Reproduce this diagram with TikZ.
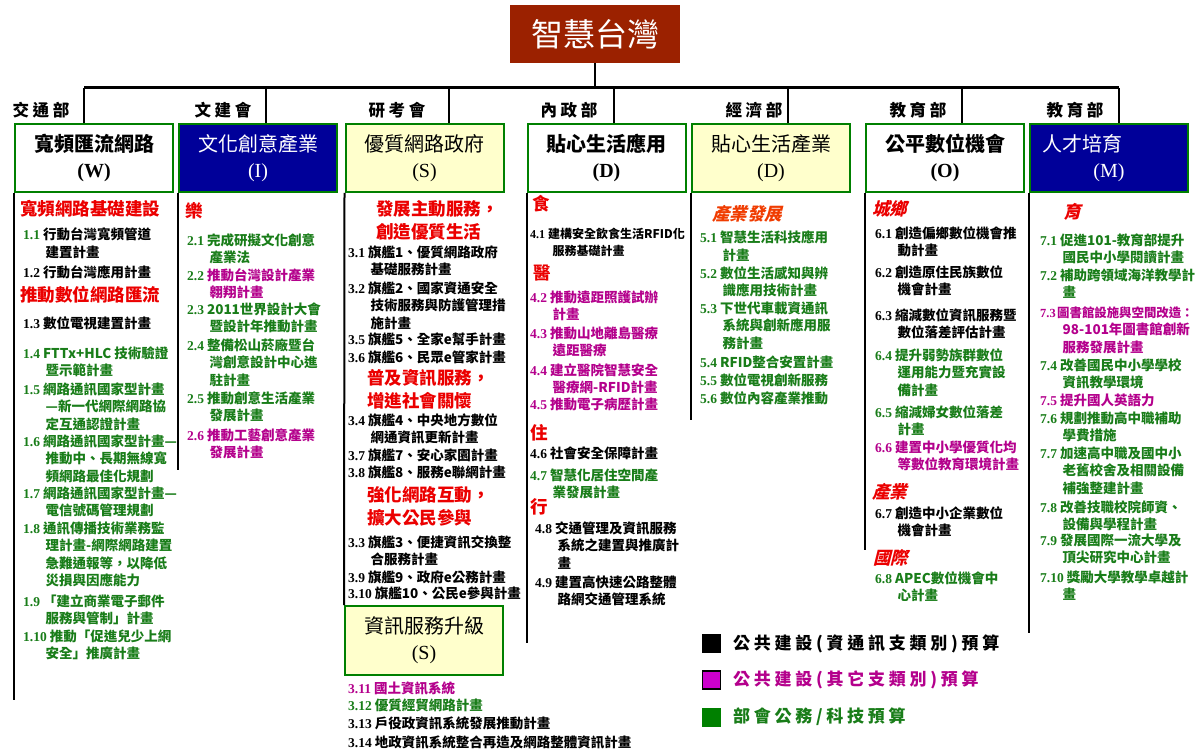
\documentclass[tikz,border=0pt]{standalone}
\usepackage{fontspec}
\setmainfont{Liberation Serif}
\newfontfamily\cjk{Noto Sans CJK TC}
\newfontfamily\cjkls[LetterSpace=22]{Noto Sans CJK TC}
\newfontfamily\cjksl[FakeSlant=0.25]{Noto Sans CJK TC}
\definecolor{hred}{RGB}{235,0,0}
\definecolor{ig}{RGB}{25,125,25}
\definecolor{im}{RGB}{180,0,140}
\definecolor{navyb}{RGB}{0,0,153}
\definecolor{lyel}{RGB}{255,255,204}
\definecolor{bgreen}{RGB}{0,128,0}
\definecolor{tred}{RGB}{155,33,0}
\definecolor{ored}{RGB}{240,60,0}
\definecolor{msq}{RGB}{204,0,204}
\newlength\hangw \setlength\hangw{22.5pt}
\newcommand\itm[2]{\parbox[t]{230pt}{\hangindent=\hangw\hangafter=1\relax{\rmfamily #1}\hspace{3pt}#2}}
\newcommand\hdl[1]{\parbox[t]{200pt}{#1}}
\tikzset{
 item/.style={anchor=base west, inner sep=0pt, font=\cjk\bfseries\fontsize{13.5}{17.5}\selectfont},
 igr/.style={text=ig}, imag/.style={text=im},
 head/.style={anchor=base west, inner sep=0pt, text=hred, font=\cjk\bfseries\fontsize{17.5}{23}\selectfont},
 shead/.style={anchor=base west, inner sep=0pt, text=hred, font=\cjksl\bfseries\fontsize{17.5}{23}\selectfont},
 box/.style={draw=bgreen, line width=2pt, minimum width=158pt, minimum height=68pt, align=center, inner sep=0pt},
 boxb/.style={box, fill=white, font=\bfseries\fontsize{20}{26}\selectfont},
 boxn/.style={box, fill=navyb, text=white, font=\fontsize{20}{26}\selectfont},
 boxy/.style={box, fill=lyel, font=\fontsize{20}{26}\selectfont},
 ministry/.style={font=\cjkls\bfseries\fontsize{16.5}{16.5}\selectfont, inner sep=0pt},
 bar/.style={line width=3pt},
 drop/.style={line width=1.6pt},
 colline/.style={line width=2pt},
 legsq/.style={minimum size=19pt, inner sep=0pt},
 legtx/.style={anchor=west, inner sep=0pt, font=\cjkls\bfseries\fontsize{17}{17}\selectfont},
}
\begin{document}
\begin{tikzpicture}[x=1pt,y=-1pt]
\useasboundingbox (0,0) rectangle (1198,751);
\fill[white] (0,0) rectangle (1198,751);
% title
\node[fill=tred, text=white, minimum width=170pt, minimum height=58pt, inner sep=0pt, font=\cjk\fontsize{32}{32}\selectfont] (t) at (595,34) {智慧台灣};
\coordinate (b1) at (84,88);
\coordinate (b2) at (266,88);
\coordinate (b3) at (449,88);
\coordinate (b4) at (614,88);
\coordinate (b5) at (788,88);
\coordinate (b6) at (962,88);
\coordinate (b7) at (1119,88);
\draw[bar] (b1) -- (b7);
\draw[drop] (t.south) -- (t.south |- b1);
% boxes
\node[boxb] (w) at (94,158) {{\cjk 寬頻匯流網路}\\(W)};
\node[boxn] (i) at (258,158) {{\cjk 文化創意產業}\\(I)};
\node[boxy] (s) at (424.5,158) {{\cjk 優質網路政府}\\(S)};
\node[boxb] (d1) at (606.5,158) {{\cjk 貼心生活應用}\\(D)};
\node[boxy] (d2) at (771,158) {{\cjk 貼心生活產業}\\(D)};
\node[boxb] (o) at (945,158) {{\cjk 公平數位機會}\\(O)};
\node[boxn] (m) at (1109,158) {{\cjk 人才培育}\hspace*{54pt}\\(M)};
\node[boxy, minimum height=69pt] (s2) at (424,640.5) {{\cjk 資訊服務升級}\\(S)};
% drops
\draw[drop] (b1) -- (b1 |- w.north);
\draw[drop] (b2) -- (b2 |- i.north);
\draw[drop] (b3) -- (b3 |- s.north);
\draw[drop] (b4) -- (b4 |- d1.north);
\draw[drop] (b5) -- (b5 |- d2.north);
\draw[drop] (b6) -- (b6 |- o.north);
\draw[drop] (b7) -- (b7 |- m.north);
% ministries
\node[ministry] (l1) at (41,110) {交通部};
\node[ministry] (l2) at (223,110) {文建會};
\node[ministry] (l3) at (397,110) {研考會};
\node[ministry] (l4) at (569,110) {內政部};
\node[ministry] (l5) at (754,110) {經濟部};
\node[ministry] (l6) at (918,110) {教育部};
\node[ministry] (l7) at (1075,110) {教育部};
% column lines
\coordinate (e1) at (0,700);
\coordinate (e2) at (0,470);
\coordinate (e4) at (0,643);
\coordinate (e5) at (0,420);
\coordinate (e6) at (0,550);
\coordinate (e7) at (0,633);
\draw[colline] (w.south west) -- (w.south west |- e1);
\draw[colline] (i.south west) -- (i.south west |- e2);
\draw[colline] (s.south west) -- (s2.north west);
\draw[colline] (d1.south west) -- (d1.south west |- e4);
\draw[colline] (d2.south west) -- (d2.south west |- e5);
\draw[colline] (o.south west) -- (o.south west |- e6);
\draw[colline] (m.south west) -- (m.south west |- e7);
% column 1
\node[head] (wh1) at (20,216) {寬頻網路基礎建設};
\node[item] (w1) at (23,240) {\itm{\textcolor{ig}{1.1}}{行動台灣寬頻管道\\建置計畫}};
\node[item] (w2) at (23,277) {\itm{1.2}{行動台灣應用計畫}};
\node[head] (wh2) at (20,301) {推動數位網路匯流};
\node[item] (w3) at (23,328) {\itm{1.3}{數位電視建置計畫}};
\node[item,igr] (w4) at (23,358) {\itm{1.4}{FTTx+HLC 技術驗證\\暨示範計畫}};
\node[item,igr] (w5) at (23,394) {\itm{1.5}{網路通訊國家型計畫\\—新一代網際網路協\\定互通認證計畫}};
\node[item,igr] (w6) at (23,446) {\itm{1.6}{網路通訊國家型計畫—\\推動中、長期無線寬\\頻網路最佳化規劃}};
\node[item,igr] (w7) at (23,498) {\itm{1.7}{網路通訊國家型計畫—\\電信號碼管理規劃}};
\node[item,igr] (w8) at (23,533) {\itm{1.8}{通訊傳播技術業務監\\理計畫-網際網路建置\\急難通報等，以降低\\災損與因應能力}};
\node[item,igr] (w9) at (23,606) {\itm{1.9}{「建立商業電子郵件\\服務與管制」計畫}};
\node[item,igr] (w10) at (23,641) {\itm{1.10}{推動「促進兒少上網\\安全」推廣計畫}};
% column 2
\node[head] (ih1) at (185,218) {樂};
\node[item,igr] (i1) at (187,245) {\itm{2.1}{完成研擬文化創意\\產業法}};
\node[item,imag] (i2) at (187,280) {\itm{\textcolor{ig}{2.2}}{推動台灣設計產業\\翱翔計畫}};
\node[item,igr] (i3) at (187,314) {\itm{2.3}{2011世界設計大會\\暨設計年推動計畫}};
\node[item,igr] (i4) at (187,350) {\itm{2.4}{整備松山菸廠暨台\\灣創意設計中心進\\駐計畫}};
\node[item,igr] (i5) at (187,403) {\itm{2.5}{推動創意生活產業\\發展計畫}};
\node[item,imag] (i6) at (187,440) {\itm{2.6}{推動工藝創意產業\\發展計畫}};
% column 3
\node[head] (sh1) at (376,216) {\hdl{發展主動服務，\\創造優質生活}};
\node[item] (s1) at (348,257) {\itm{3.1}{旗艦1、優質網路政府\\基礎服務計畫}};
\node[item] (s2i) at (348,293) {\itm{3.2}{旗艦2、國家資通安全\\技術服務與防護管理措\\施計畫}};
\node[item] (s5) at (348,344) {\itm{3.5}{旗艦5、全家e幫手計畫}};
\node[item] (s6) at (348,362) {\itm{3.6}{旗艦6、民眾e管家計畫}};
\node[head] (sh2) at (367,384) {\hdl{普及資訊服務，\\增進社會關懷}};
\node[item] (s4) at (348,425) {\itm{3.4}{旗艦4、中央地方數位\\網通資訊更新計畫}};
\node[item] (s7) at (348,460) {\itm{3.7}{旗艦7、安心家園計畫}};
\node[item] (s8) at (348,477) {\itm{3.8}{旗艦8、服務e聯網計畫}};
\node[head] (sh3) at (367,501) {\hdl{強化網路互動，\\擴大公民參與}};
\node[item] (s3) at (348,547) {\itm{3.3}{旗艦3、便捷資訊交換整\\合服務計畫}};
\node[item] (s9) at (348,582) {\itm{3.9}{旗艦9、政府e公務計畫}};
\node[item] (s10) at (348,598) {\itm{3.10}{旗艦10、公民e參與計畫}};
\node[item,imag] (s11) at (348,693) {\itm{3.11}{國土資訊系統}};
\node[item,igr] (s12) at (348,710) {\itm{3.12}{優質經貿網路計畫}};
\node[item] (s13) at (348,728) {\itm{3.13}{戶役政資訊系統發展推動計畫}};
\node[item] (s14) at (348,747) {\itm{3.14}{地政資訊系統整合再造及網路整體資訊計畫}};
% column 4
\node[head] (dh1) at (532,211) {食};
\node[item, font=\cjk\bfseries\fontsize{12}{17.5}\selectfont] (d11) at (530,238) {\itm{4.1}{建構安全飲食生活RFID化\\服務基礎計畫}};
\node[head] (dh2) at (533,279) {醫};
\node[item,imag] (d12) at (530,302) {\itm{4.2}{推動遠距照護試辦\\計畫}};
\node[item,imag] (d13) at (530,338) {\itm{4.3}{推動山地離島醫療\\遠距醫療}};
\node[item,imag] (d14) at (530,375) {\itm{4.4}{建立醫院智慧安全\\醫療網-RFID計畫}};
\node[item,imag] (d15) at (530,409) {\itm{4.5}{推動電子病歷計畫}};
\node[head] (dh3) at (530,439) {住};
\node[item] (d16) at (530,458) {\itm{4.6}{社會安全保障計畫}};
\node[item,igr] (d17) at (530,480) {\itm{4.7}{智慧化居住空間產\\業發展計畫}};
\node[head] (dh4) at (530,513) {行};
\node[item] (d18) at (535,533) {\itm{4.8}{交通管理及資訊服務\\系統之建置與推廣計\\畫}};
\node[item] (d19) at (535,587) {\itm{4.9}{建置高快速公路整體\\路網交通管理系統}};
% column 5
\node[shead, text=ored] (dh5) at (712,221) {產業發展};
\node[item,igr] (d21) at (700,243) {\itm{5.1}{智慧生活科技應用\\計畫}};
\node[item,igr] (d22) at (700,278) {\itm{5.2}{數位生活感知與辨\\識應用技術計畫}};
\node[item,igr] (d23) at (700,313) {\itm{5.3}{下世代車載資通訊\\系統與創新應用服\\務計畫}};
\node[item,igr] (d24) at (700,367) {\itm{5.4}{RFID整合安置計畫}};
\node[item,igr] (d25) at (700,385) {\itm{5.5}{數位電視創新服務}};
\node[item,igr] (d26) at (700,403) {\itm{5.6}{數位內容產業推動}};
% column 6
\node[shead] (oh1) at (872,216) {城鄉};
\node[item] (o1) at (875,238) {\itm{6.1}{創造偏鄉數位機會推\\動計畫}};
\node[item] (o2) at (875,277) {\itm{6.2}{創造原住民族數位\\機會計畫}};
\node[item] (o3) at (875,320) {\itm{6.3}{縮減數位資訊服務暨\\數位落差評估計畫}};
\node[item,igr] (o4) at (875,360) {\itm{6.4}{提升弱勢族群數位\\運用能力暨充實設\\備計畫}};
\node[item,igr] (o5) at (875,417) {\itm{6.5}{縮減婦女數位落差\\計畫}};
\node[item,imag] (o6) at (875,452) {\itm{6.6}{建置中小學優質化均\\等數位教育環境計畫}};
\node[shead] (oh2) at (872,498) {產業};
\node[item] (o7) at (875,518) {\itm{6.7}{創造中小企業數位\\機會計畫}};
\node[shead] (oh3) at (873,564) {國際};
\node[item,igr] (o8) at (875,583) {\itm{6.8}{APEC數位機會中\\心計畫}};
% column 7
\node[shead] (mh1) at (1063,219) {育};
\node[item,igr] (m1) at (1040,245) {\itm{7.1}{促進101-教育部提升\\國民中小學閱讀計畫}};
\node[item,igr] (m2) at (1040,280) {\itm{7.2}{補助跨領域海洋教學計\\畫}};
\node[item,imag, font=\cjk\bfseries\fontsize{12.4}{17.5}\selectfont] (m3) at (1040,317) {\parbox[t]{230pt}{\hangindent=\hangw\hangafter=1\relax{\rmfamily 7.3}\hspace{1.5pt}圖書館設施與空間改造：\\{\fontsize{13.5}{17.5}\selectfont 98-101年圖書館創新\\服務發展計畫}}};
\node[item,igr] (m4) at (1040,370) {\itm{7.4}{改善國民中小學學校\\資訊教學環境}};
\node[item,imag] (m5) at (1040,405) {\itm{7.5}{提升國人英語力}};
\node[item,igr] (m6) at (1040,423) {\itm{7.6}{規劃推動高中職補助\\學費措施}};
\node[item,igr] (m7) at (1040,458) {\itm{7.7}{加速高中職及國中小\\老舊校舍及相關設備\\補強整建計畫}};
\node[item,igr] (m8) at (1040,512) {\itm{7.8}{改善技職校院師資、\\設備與學程計畫}};
\node[item,igr] (m9) at (1040,545) {\itm{7.9}{發展國際一流大學及\\頂尖研究中心計畫}};
\node[item,igr] (m10) at (1040,582) {\itm{7.10}{獎勵大學教學卓越計\\畫}};
% legend
\node[legsq, fill=black] (k1) at (711.5,643) {};
\node[legtx] (k1t) at (733,644) {公共建設(資通訊支類別)預算};
\node[legsq, fill=msq, draw=black, line width=1.2pt, minimum size=18pt] (k2) at (711.5,680) {};
\node[legtx, text=im] (k2t) at (733,680) {公共建設(其它支類別)預算};
\node[legsq, fill=bgreen] (k3) at (711.5,717.5) {};
\node[legtx, text=ig] (k3t) at (733,717) {部會公務/科技預算};
\end{tikzpicture}
\end{document}
